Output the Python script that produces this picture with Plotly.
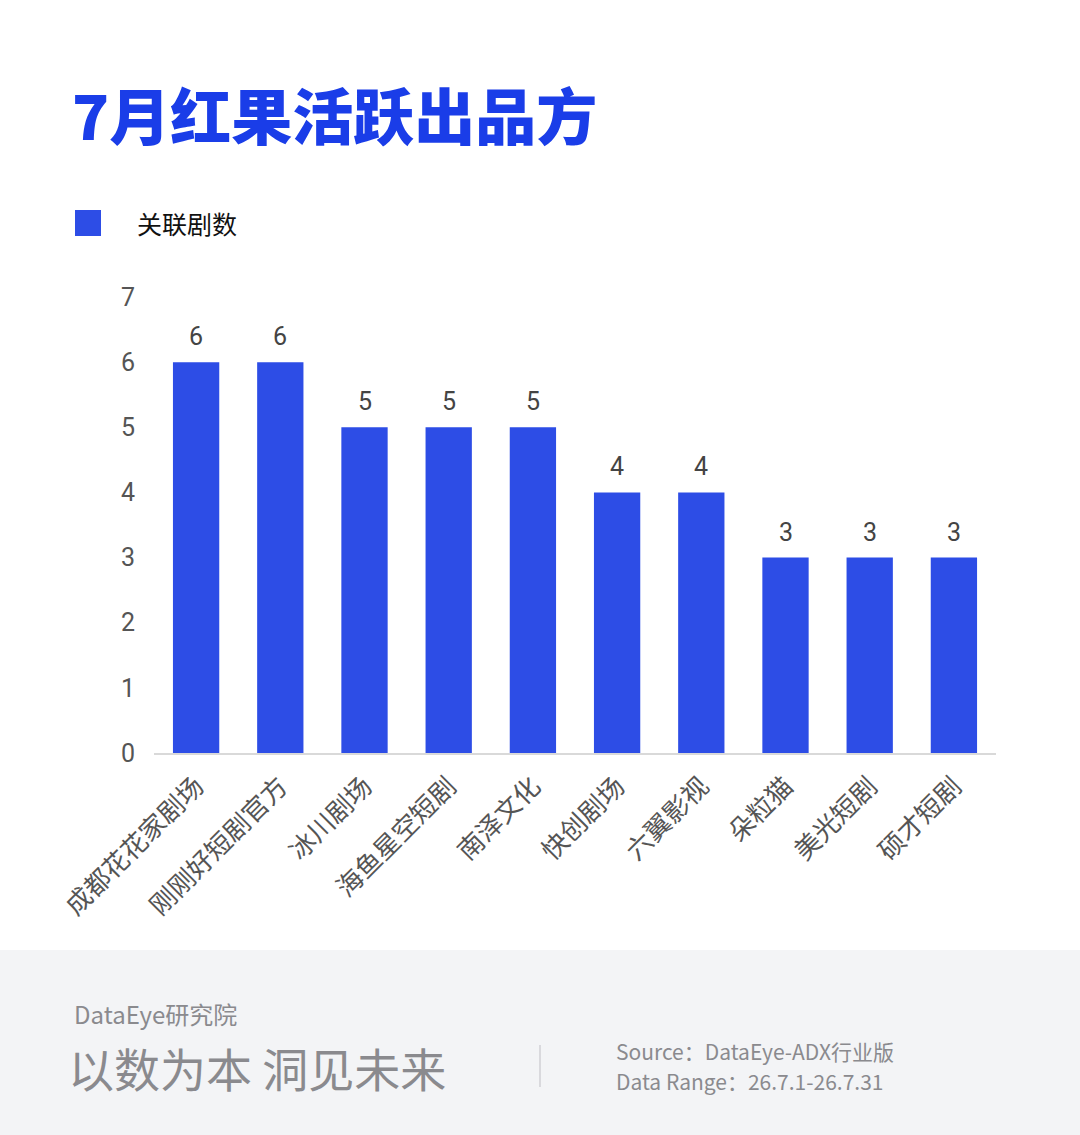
import plotly.graph_objects as go

# Chart data
producers = ["成都花花家剧场", "刚刚好短剧官方", "冰川剧场", "海鱼星空短剧", "南泽文化",
             "快创剧场", "六翼影视", "朵粒猫", "美光短剧", "硕才短剧"]
drama_counts = [6, 6, 5, 5, 5, 4, 4, 3, 3, 3]
y_ticks = [0, 1, 2, 3, 4, 5, 6, 7]

title = "7月红果活跃出品方"
series_name = "关联剧数"
blue = "#2d4de6"
font_cn = "Noto Sans CJK SC"

# Page size and plot area (pixels)
W, H = 1080, 1135
left, right, top, bottom = 154, 996, 297, 753


def px_x(p):
    return (p - left) / (right - left)


def px_y(p):
    return (bottom - p) / (bottom - top)


fig = go.Figure()
fig.add_trace(go.Bar(
    x=producers, y=drama_counts, name=series_name,
    marker_color=blue, marker_line_width=0, showlegend=False,
))

# Value labels above bars
annotations = []
for name, val in zip(producers, drama_counts):
    annotations.append(dict(
        x=name, y=val, xref="x", yref="y", text=str(val), showarrow=False,
        yanchor="bottom", yshift=9, font=dict(size=25, color="#444444", family="Roboto"),
    ))

# Title and legend
annotations.append(dict(x=px_x(70), y=px_y(114), xref="paper", yref="paper", text=title,
                        showarrow=False, xanchor="left", yanchor="middle",
                        font=dict(size=61, color="#1a3de8", family=font_cn, weight=900)))
annotations.append(dict(x=px_x(135), y=px_y(223), xref="paper", yref="paper", text=series_name,
                        showarrow=False, xanchor="left", yanchor="middle",
                        font=dict(size=25, color="#111111", family=font_cn)))

# Footer texts
annotations.append(dict(x=px_x(72), y=px_y(1013), xref="paper", yref="paper", text="DataEye研究院",
                        showarrow=False, xanchor="left", yanchor="middle",
                        font=dict(size=24, color="#8a8a8e", family=font_cn)))
annotations.append(dict(x=px_x(66), y=px_y(1067), xref="paper", yref="paper", text="以数为本 洞见未来",
                        showarrow=False, xanchor="left", yanchor="middle",
                        font=dict(size=46, color="#8a8a8e", family=font_cn)))
annotations.append(dict(x=px_x(614), y=px_y(1051), xref="paper", yref="paper",
                        text="Source：DataEye-ADX行业版",
                        showarrow=False, xanchor="left", yanchor="middle",
                        font=dict(size=21, color="#8a8a8e", family=font_cn)))
annotations.append(dict(x=px_x(614), y=px_y(1081), xref="paper", yref="paper",
                        text="Data Range：26.7.1-26.7.31",
                        showarrow=False, xanchor="left", yanchor="middle",
                        font=dict(size=21, color="#8a8a8e", family=font_cn)))

shapes = [
    # footer band
    dict(type="rect", xref="paper", yref="paper", x0=px_x(0), x1=px_x(W), y0=px_y(950), y1=px_y(H),
         fillcolor="#f3f4f6", line_width=0, layer="below"),
    # divider in footer
    dict(type="line", xref="paper", yref="paper", x0=px_x(540), x1=px_x(540), y0=px_y(1045), y1=px_y(1087),
         line=dict(color="#d0d0d4", width=1.5)),
    # legend swatch
    dict(type="rect", xref="paper", yref="paper", x0=px_x(75), x1=px_x(101), y0=px_y(210), y1=px_y(236),
         fillcolor=blue, line_width=0),
]

fig.update_layout(
    width=W, height=H,
    margin=dict(l=left, r=W - right, t=top, b=H - bottom),
    paper_bgcolor="white", plot_bgcolor="rgba(0,0,0,0)",
    bargap=0.45,
    font=dict(family=font_cn),
    annotations=annotations, shapes=shapes,
)
fig.update_xaxes(
    tickangle=-45, tickfont=dict(size=26, color="#555555", family=font_cn),
    showgrid=False, showline=True, linecolor="#d9d9d9", linewidth=1.5, ticks="",
    ticklabelstandoff=6,
)
fig.update_yaxes(
    range=[0, 7], tickvals=y_ticks, showgrid=False, zeroline=False, showline=False,
    ticks="", ticklabelstandoff=18,
    tickfont=dict(size=25, color="#555555", family="Roboto"),
)

# Drop the default page margin so the figure sits at the window corner
fig.write_html("out.html", config={"displayModeBar": False},
               post_script="document.body.style.margin='0';document.body.style.overflow='hidden';")
